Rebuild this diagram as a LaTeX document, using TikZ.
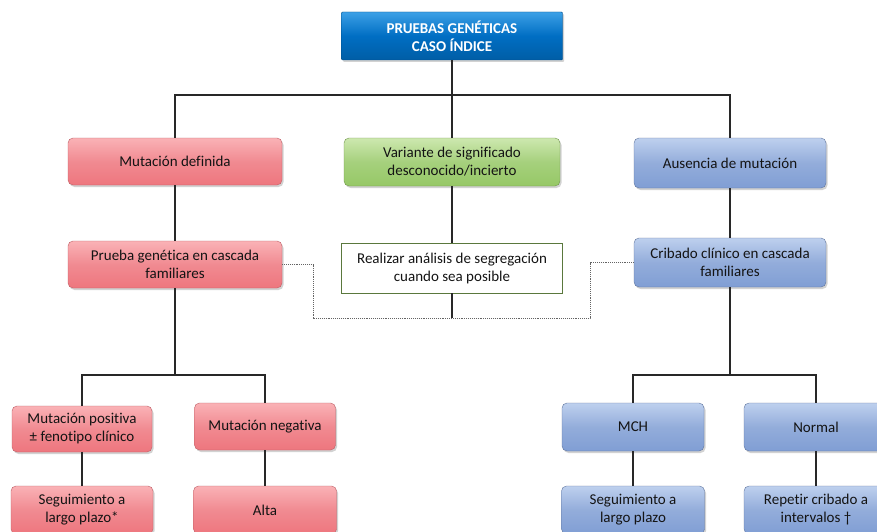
\documentclass[tikz,border=0pt]{standalone}
\usepackage{fontspec}
\setmainfont{Carlito}[Ligatures=NoCommon]
\usetikzlibrary{shadows}
\definecolor{redbox}{RGB}{238,118,126}
\definecolor{redtop}{RGB}{250,178,182}
\definecolor{greenbox}{RGB}{150,200,102}
\definecolor{greentop}{RGB}{205,232,175}
\definecolor{bluebox}{RGB}{128,158,212}
\definecolor{bluetop}{RGB}{190,208,238}
\definecolor{headbox}{RGB}{0,110,195}
\definecolor{headtop}{RGB}{60,160,230}
\definecolor{linecol}{RGB}{40,40,40}
\definecolor{dotcol}{RGB}{100,100,100}
\definecolor{txt}{RGB}{20,20,20}
\tikzset{
  base/.style={rounded corners=5pt, align=center, font=\fontsize{15}{18}\selectfont,
    text=txt, inner sep=2pt, drop shadow={shadow xshift=1.5pt, shadow yshift=-2pt, opacity=0.35}},
  redb/.style={base, draw=redbox!80!black, top color=redtop, bottom color=redbox, middle color=redbox!85!white},
  greenb/.style={base, draw=greenbox!75!black, top color=greentop, bottom color=greenbox, middle color=greenbox!85!white},
  blueb/.style={base, draw=bluebox!75!black, top color=bluetop, bottom color=bluebox, middle color=bluebox!85!white},
  headb/.style={base, rounded corners=1pt, draw=headbox!70!black, top color=headtop, bottom color=headbox!85!black,
    middle color=headbox, text=white, font=\fontsize{15}{18}\selectfont\bfseries},
  whiteb/.style={align=center, font=\fontsize{15}{18}\selectfont, text=txt, fill=white,
    draw=greenbox!60!black, line width=0.9pt, inner sep=2pt},
  link/.style={draw=linecol, line width=1.2pt},
  dotlink/.style={draw=dotcol, line width=0.9pt, densely dotted}
}
\begin{document}
\begin{tikzpicture}[x=1pt, y=-1pt]
\useasboundingbox (0,0) rectangle (877,532);
\clip (0,0) rectangle (877,532);
\fill[white] (0,0) rectangle (877,532);

% header
\node[headb, minimum width=221pt, minimum height=48pt] (top) at (452,36) {PRUEBAS GENÉTICAS\\CASO ÍNDICE};

% first level
\node[redb, minimum width=214pt, minimum height=47pt] (md) at (175,161.5) {Mutación definida};
\node[greenb, minimum width=216pt, minimum height=48pt] (vs) at (452,162) {Variante de significado\\desconocido/incierto};
\node[blueb, minimum width=192pt, minimum height=50pt] (am) at (730,163) {Ausencia de mutación};

% second level
\node[redb, minimum width=214pt, minimum height=47pt] (pg) at (175,264.5) {Prueba genética en cascada\\familiares};
\node[whiteb, minimum width=221pt, minimum height=50pt] (ra) at (452,268) {Realizar análisis de segregación\\cuando sea posible};
\node[blueb, minimum width=192pt, minimum height=49pt] (cc) at (730,262.5) {Cribado clínico en cascada\\familiares};

% third level
\node[redb, minimum width=140pt, minimum height=46pt] (mp) at (82,429) {Mutación positiva\\± fenotipo clínico};
\node[redb, minimum width=141pt, minimum height=47pt] (mn) at (265,426.5) {Mutación negativa};
\node[blueb, minimum width=142pt, minimum height=48pt] (mch) at (633,427) {MCH};
\node[blueb, minimum width=144pt, minimum height=48pt] (nor) at (816,427) {Normal};

% fourth level
\node[redb, minimum width=142pt, minimum height=48pt] (sl) at (82,510) {Seguimiento a\\largo plazo*};
\node[redb, minimum width=143pt, minimum height=48pt] (alta) at (265,510) {Alta};
\node[blueb, minimum width=143pt, minimum height=48pt] (slb) at (633,510) {Seguimiento a\\largo plazo};
\node[blueb, minimum width=144pt, minimum height=48pt] (rep) at (816,510) {Repetir cribado a\\intervalos †};

% junction points
\coordinate (bar1) at (452,95);
\coordinate (barL) at (175,375);
\coordinate (barR) at (730,375);
\coordinate (segEnd) at (452,318);
\coordinate (dl) at (313,318);
\coordinate (dr) at (590,318);

% solid connectors
\draw[link] (top.south) -- (bar1);
\draw[link] (md.north) |- (bar1) -| (am.north);
\draw[link] (vs.north) -- (vs.north |- bar1);
\draw[link] (md.south) -- (pg.north);
\draw[link] (vs.south) -- (ra.north);
\draw[link] (ra.south) -- (segEnd);
\draw[link] (am.south) -- (cc.north);
\draw[link] (pg.south) -- (barL);
\draw[link] (mp.north) |- (barL) -| (mn.north);
\draw[link] (cc.south) -- (barR);
\draw[link] (mch.north) |- (barR) -| (nor.north);
\draw[link] (mp.south) -- (sl.north);
\draw[link] (mn.south) -- (alta.north);
\draw[link] (mch.south) -- (slb.north);
\draw[link] (nor.south) -- (rep.north);

% dotted link between the cascade studies
\draw[dotlink] (pg.east) -| (dl) -- (dr) |- (cc.west);
\end{tikzpicture}
\end{document}
